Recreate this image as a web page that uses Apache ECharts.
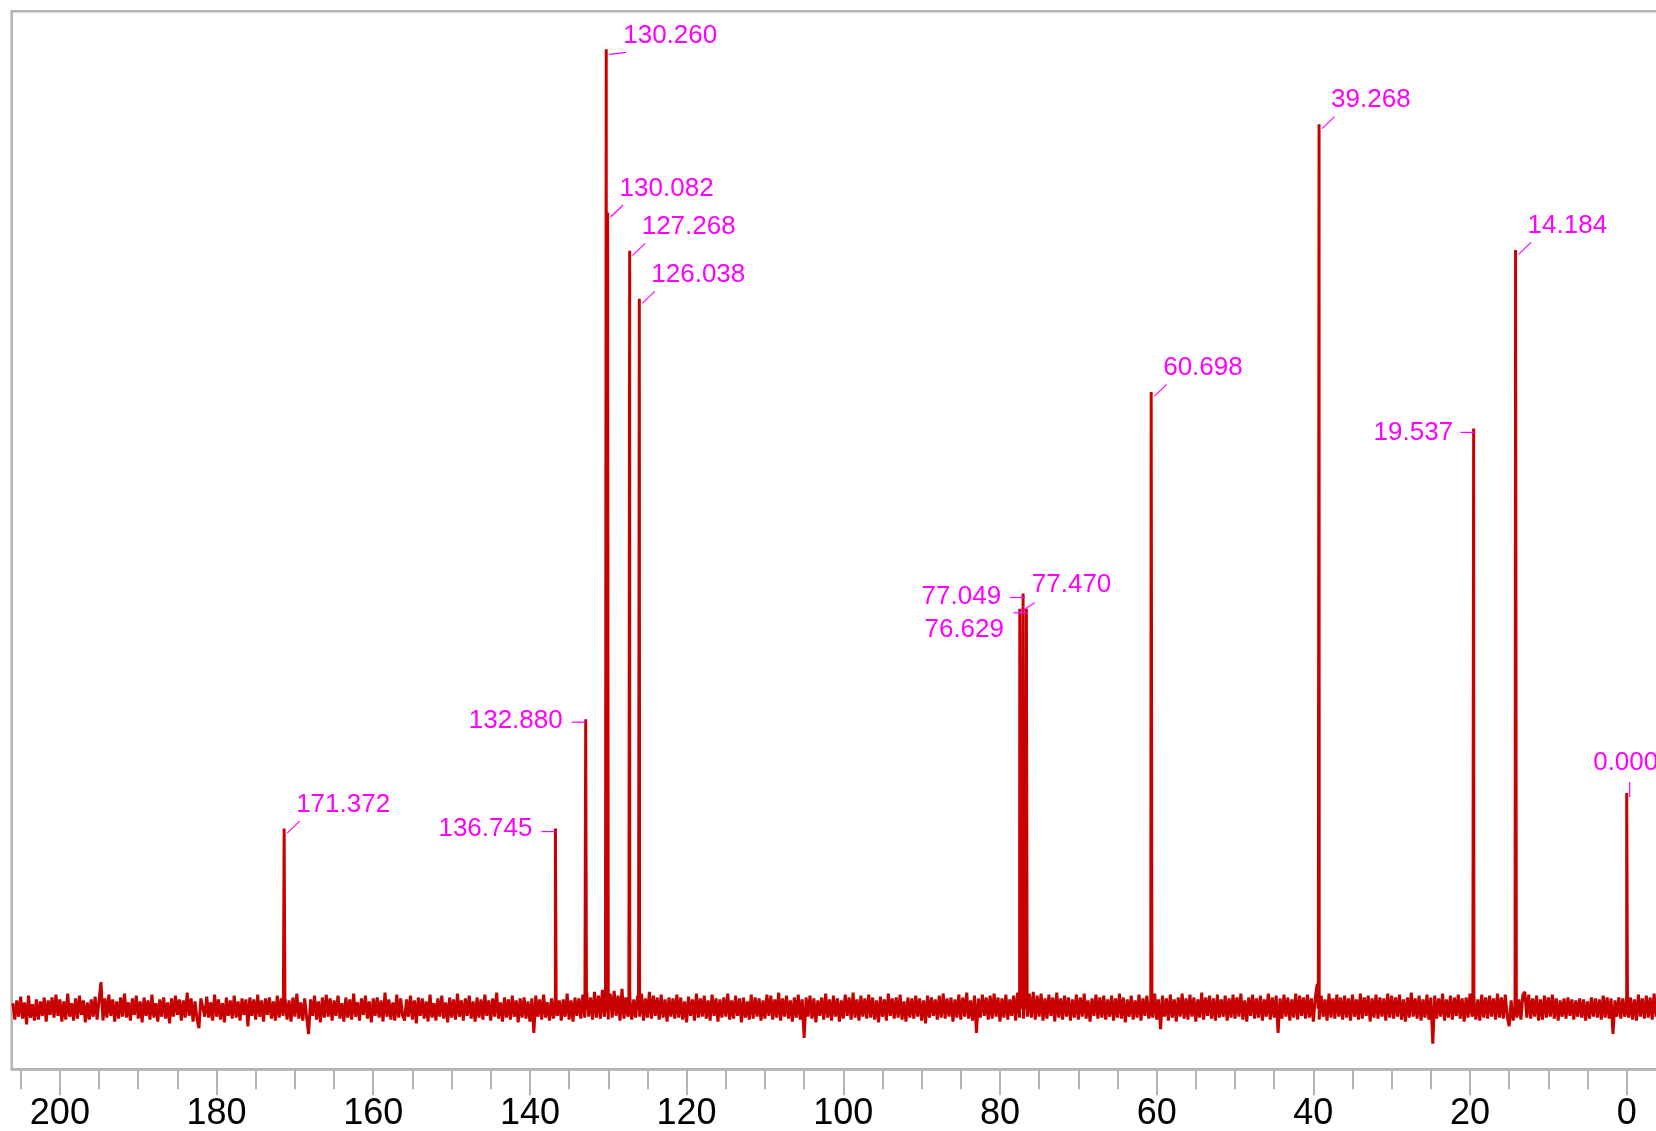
<!DOCTYPE html>
<html>
<head>
<meta charset="utf-8">
<script src="https://cdn.jsdelivr.net/npm/echarts@6/dist/echarts.min.js"></script>
<style>
html,body{margin:0;padding:0;background:#fff;}
#chart{width:1656px;height:1131px;}
</style>
</head>
<body>
<div id="chart"></div>
<script>
// ---- data ----
const peakPpm    = [171.372, 136.745, 132.880, 130.260, 130.082, 127.268, 126.038, 77.470, 77.049, 76.629, 60.698, 39.268, 19.537, 14.184, 0.000];
const peakHeight = [18.8,    18.8,    30.2,    100.0,   83.0,    79.0,    74.0,    41.7,   43.3,   41.7,   64.3,   92.2,   60.5,   79.1,   22.5];
const peakLabels = ['171.372','136.745','132.880','130.260','130.082','127.268','126.038','77.470','77.049','76.629','60.698','39.268','19.537','14.184','0.000'];

const majorTicks = [0, 20, 40, 60, 80, 100, 120, 140, 160, 180, 200];
const minorTicks = [5, 10, 15, 25, 30, 35, 45, 50, 55, 65, 70, 75, 85, 90, 95, 105, 110, 115, 125, 130, 135, 145, 150, 155, 165, 170, 175, 185, 190, 195, 205];

// baseline noise (tenths of intensity unit), sampled every 0.25 ppm starting at 206 ppm
const noiseStart = 206;
const noiseStep = 0.25;
const noiseTenths = [
 6,-11,9,-8,13,-10,7,-16,14,-9,5,-12,10,-11,8,-7,12,-13,9,-6,
 12,-9,15,-7,10,-13,8,-11,16,-8,6,-12,11,-10,14,-6,9,-14,7,-11,
 10,-8,13,-11,9,28,-12,11,-9,15,-7,10,-13,8,-10,12,-8,16,-9,7,
 -12,11,-6,14,-10,8,-14,12,-7,9,-11,15,-9,6,-13,10,-8,12,-10,7,
 -15,11,-8,14,-6,10,-12,9,-9,17,-7,11,-13,8,-10,-20,11,9,-8,13,
 -9,7,-12,15,-8,10,-11,6,-14,12,-7,9,-10,14,-9,8,-12,11,-6,10,
 -18,12,-7,10,-11,15,-8,9,-13,11,-6,12,-10,8,-12,14,-9,11,-7,10,
 -11,9,-13,12,-8,16,-10,7,-12,11,-9,-26,10,-7,14,-11,8,-14,12,-9,
 15,-8,11,-12,9,-7,14,-10,6,-13,12,-9,10,-11,16,-8,7,-12,11,-6,
 14,-10,8,-14,11,-7,12,-9,9,-13,17,-8,10,-11,7,-12,15,-9,11,-7,
 -12,10,-8,14,-11,9,-15,12,-7,11,-10,8,-13,15,-9,6,-12,11,-8,14,
 -10,7,-14,12,-9,10,-11,16,-8,9,-12,11,-7,14,-10,8,-13,12,-9,10,
 -11,15,-7,9,-12,11,-8,17,-10,7,-13,12,-9,10,-11,14,-8,9,-14,11,
 -9,12,-10,8,-13,11,-25,14,-8,10,-11,15,-9,7,-12,11,-10,14,-7,9,
 -12,10,-8,16,-11,9,-13,12,-7,11,-10,15,-9,17,-8,12,-11,18,-9,14,
 -10,20,-8,22,-11,16,-9,19,-7,14,-12,21,-10,12,-8,15,-11,10,-9,14,
 -8,16,-12,11,-9,18,-10,14,-7,12,-11,15,-9,10,-13,12,-8,11,-10,15,
 -9,12,-11,8,-14,13,-7,10,-12,16,-9,11,-8,14,-10,9,-12,15,-7,11,
 -13,10,-9,12,-8,16,-11,9,-10,14,-7,11,-14,12,-9,8,-11,15,-10,12,
 -8,11,-12,9,-10,15,-7,14,-11,10,-9,17,-12,11,-8,14,-10,9,-13,12,
 -9,15,-11,10,-30,12,-8,14,-10,11,-14,9,-7,12,-11,16,-9,10,-12,14,
 -8,11,-13,9,-10,15,-7,12,-11,17,-9,10,-12,14,-8,11,-10,15,-9,12,
 -11,9,-14,13,-8,10,-12,16,-7,11,-10,12,-9,15,-11,8,-13,12,-9,11,
 -10,14,-8,11,-12,9,-15,14,-9,12,-7,10,-11,14,-9,16,-10,11,-8,12,
 -13,10,-9,15,-11,12,-8,17,-10,9,-12,14,-25,11,-9,15,-7,12,-11,14,
 -10,16,-8,12,-13,11,-9,15,-11,10,-7,14,-12,17,-9,11,-10,15,-8,16,
 -9,18,-11,14,-8,16,-12,11,-10,15,-7,12,-13,17,-9,11,-11,14,-8,12,
 -12,10,-9,15,-11,12,-8,16,-10,9,-13,11,-7,15,-10,12,-9,14,-11,10,
 -8,14,-12,11,-9,16,-10,12,-14,10,-8,14,-11,9,-9,15,-12,11,-7,14,
 -10,12,-9,16,-11,10,-21,14,-8,11,-12,15,-9,10,-13,12,-8,16,-10,11,
 -11,15,-8,12,-13,10,-9,17,-11,12,-7,14,-10,11,-12,15,-9,10,-8,14,
 -12,11,-9,15,-10,12,-8,16,-11,9,-13,12,-7,15,-10,11,-9,14,-12,10,
 -8,16,-11,12,-9,14,-25,11,-10,15,-8,12,-12,10,-9,16,-11,14,-7,12,
 -10,15,-9,11,-13,12,26,-11,14,-8,10,-12,16,-9,11,-10,15,-8,12,-11,
 14,-9,11,-12,15,-8,10,-11,16,-10,12,-7,14,-13,11,-9,15,-10,12,-8,
 11,-12,16,-9,14,-10,12,-8,15,-11,10,-13,12,-9,17,-8,11,-10,14,-12,
 10,-9,15,-11,12,-36,14,-10,11,-8,16,-12,10,-9,14,-11,12,-7,15,-10,
 11,-13,12,-9,16,-8,14,-11,10,-12,15,-9,12,-10,14,-8,11,-11,16,-9,
 12,-10,15,-8,-18,9,-12,14,-9,10,-11,15,18,-9,15,-10,11,-8,14,-12,
 10,-11,14,-9,12,-8,15,-10,11,-12,9,-8,11,-10,12,-7,10,-11,9,-8,
 11,-9,10,-12,8,-10,12,-8,11,-9,10,-11,14,-9,12,-10,11,-26,9,-8,
 12,-10,11,-8,14,-9,12,-11,10,-12,15,-8,11,-10,14,-9,12,-11,16,-8,
 11,-10,14,-9,12
];

// ---- label layout (pixel offsets relative to the peak top) ----
const DIAG = {line: [3, 4.5, 15.5, -7.5], text: [12, -24], align: 'left'};
const LEFT = {line: [-13, 4, 2, 4], text: [-20.5, 4.5], align: 'right'};
const labelLayout = [
  DIAG,                                                    // 171.372
  {line: [-14, 3, 0, 3], text: [-23, 0], align: 'right'},  // 136.745
  {line: [-14, 3, 0, 3], text: [-23, 2], align: 'right'},  // 132.880
  {line: [3, 5, 20, 3], text: [17, -13.5], align: 'left'}, // 130.260
  DIAG, DIAG, DIAG,                                        // 130.082, 127.268, 126.038
  {line: [-1, 4, 15, -6], text: [12, -24], align: 'left'}, // 77.470
  {line: [-13, 4, 2, 4], text: [-22, 3.5], align: 'right'},// 77.049
  {line: [-13, 4, 2, 4], text: [-22.4, 21], align: 'right'},// 76.629
  DIAG, DIAG,                                              // 60.698, 39.268
  LEFT,                                                    // 19.537
  DIAG,                                                    // 14.184
  {line: [3, -11, 3, 4], text: [-1, -30], align: 'center'} // 0.000
];

// ---- build the spectrum trace ----
const spectrum = [];
noiseTenths.forEach((v, i) => spectrum.push([noiseStart - i * noiseStep, v / 10]));
peakPpm.forEach((p, k) => {
  spectrum.push([p + 0.1, 0], [p, peakHeight[k]], [p - 0.1, 0]);
});
spectrum.sort((a, b) => b[0] - a[0]);

const peakData = peakPpm.map((p, k) => [p, peakHeight[k], k]);

const FONT = '"Liberation Sans", Arial, sans-serif';
const AXIS_GRAY = '#b4b4b4';

const chart = echarts.init(document.getElementById('chart'), null, {renderer: 'canvas'});
chart.setOption({
  animation: false,
  backgroundColor: '#ffffff',
  grid: {
    left: 11.7, width: 1654.17, top: 11.2, height: 1058.1,
    outerBoundsMode: 'none', containLabel: false,
    show: true, borderColor: AXIS_GRAY, borderWidth: 2.5, backgroundColor: 'transparent'
  },
  xAxis: [
    {
      type: 'value', inverse: true, min: -5, max: 206.15, position: 'bottom',
      axisLine: {show: true, onZero: false, lineStyle: {color: AXIS_GRAY, width: 2.5}},
      axisTick: {show: true, customValues: majorTicks, length: 26, lineStyle: {color: AXIS_GRAY, width: 2}},
      axisLabel: {show: true, customValues: majorTicks, fontSize: 36, color: '#000', margin: 27, fontFamily: FONT},
      splitLine: {show: false}
    },
    {
      type: 'value', inverse: true, min: -5, max: 206.15, position: 'bottom', gridIndex: 0,
      axisLine: {show: false, onZero: false},
      axisTick: {show: true, customValues: minorTicks, length: 20, lineStyle: {color: AXIS_GRAY, width: 2}},
      axisLabel: {show: false},
      splitLine: {show: false}
    }
  ],
  yAxis: {type: 'value', show: false, min: -6.28, max: 103.97, splitLine: {show: false}},
  series: [
    {
      type: 'line', xAxisIndex: 0, data: spectrum, showSymbol: false, symbol: 'none',
      sampling: null, lineStyle: {color: '#c80000', width: 3}, z: 2, silent: true
    },
    {
      type: 'custom', xAxisIndex: 0, data: peakData, z: 5, silent: true, clip: false,
      renderItem: function (params, api) {
        const k = api.value(2);
        const pt = api.coord([api.value(0), api.value(1)]);
        const L = labelLayout[k];
        return {
          type: 'group',
          children: [
            {type: 'line', shape: {x1: pt[0] + L.line[0], y1: pt[1] + L.line[1], x2: pt[0] + L.line[2], y2: pt[1] + L.line[3]},
             style: {stroke: '#ff00ff', lineWidth: 1.2}},
            {type: 'line', shape: {x1: pt[0] - 4, y1: pt[1] - 3, x2: pt[0] - 3, y2: pt[1] - 2},
             style: {stroke: '#ff66ff', lineWidth: 1, opacity: 0.6}},
            {type: 'text', x: pt[0] + L.text[0], y: pt[1] + L.text[1],
             style: {text: peakLabels[k], fill: '#ff00ff', font: '26px ' + FONT, textAlign: L.align, textVerticalAlign: 'middle'}}
          ]
        };
      }
    }
  ]
});
</script>
</body>
</html>
